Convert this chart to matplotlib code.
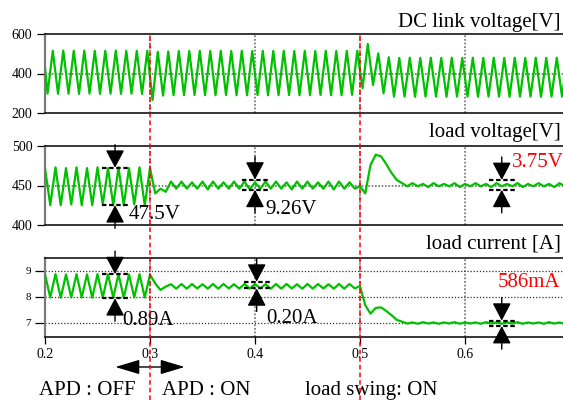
import numpy as np
import matplotlib
matplotlib.use('Agg')
import matplotlib.pyplot as plt
from matplotlib.lines import Line2D
from matplotlib.transforms import blended_transform_factory

plt.rcParams['font.family'] = ['Liberation Serif', 'DejaVu Serif']

# ---------------- data ----------------
half_period = 0.005          # s between successive extrema (100 Hz ripple)
dc_first_time = 0.2          # first sample of DC link trace
dc_first_extremum = 0.2024   # first trough of DC link trace
lv_first_extremum = 0.2
lc_first_extremum = 0.2

# DC link voltage [V]: first sample, then alternating extrema
dc_link_v = [430,
             298, 515, 297, 516, 298, 515, 297, 516, 298, 515,
             297, 515, 298, 516, 297, 515, 298, 515, 296, 515,
             266,
             510, 288, 512, 290, 514, 290, 514, 291, 515, 290,
             514, 290, 515, 291, 514, 290, 515, 290, 514, 291,
             515, 290, 514, 290, 515, 291, 514, 290, 515, 290,
             514, 291, 515, 290, 514, 290, 515, 292, 515,
             325, 549, 342, 502, 300, 482, 283,
             479, 283, 480, 282, 479, 283, 480, 283, 479, 282,
             480, 283, 479, 283, 480, 282, 479, 283, 480, 283,
             479, 282, 480, 283, 479, 283, 480, 282, 479, 283,
             480, 283, 479]

# load voltage [V]: alternating extrema / transient samples
load_voltage_v = [472, 425, 473, 425, 472, 426, 473, 425, 472, 425,
                  473, 426, 472, 425, 473, 425, 472, 426, 473, 425, 472,
                  440, 446, 442, 455, 446,
                  455, 446, 454, 446, 455, 445, 455, 446, 454, 446,
                  455, 446, 455, 445, 454, 446, 455, 446, 455, 446,
                  454, 445, 455, 446, 455, 446, 454, 446, 455, 445,
                  455, 446, 454, 446,
                  449, 440, 476, 489, 487, 477, 466, 457, 453, 449,
                  453, 449, 452, 448, 453, 449, 452, 449, 453, 448,
                  452, 449, 453, 449, 452, 448, 453, 449, 452, 449,
                  453, 448, 452, 449, 453, 449, 452, 448, 453, 449]

# load current [A]
load_current_a = [8.87, 7.98, 8.88, 7.97, 8.87, 7.98, 8.88, 7.98, 8.87, 7.97,
                  8.88, 7.98, 8.87, 7.98, 8.88, 7.97, 8.87, 7.98, 8.88, 7.98, 8.86,
                  8.52, 8.27, 8.40,
                  8.49, 8.32, 8.50, 8.32, 8.50, 8.33, 8.49, 8.32, 8.50, 8.32,
                  8.50, 8.33, 8.49, 8.32, 8.50, 8.32, 8.50, 8.33, 8.49, 8.32,
                  8.50, 8.32, 8.50, 8.33, 8.49, 8.32, 8.50, 8.32, 8.50, 8.33,
                  8.49, 8.32, 8.50, 8.32, 8.50, 8.33,
                  8.42, 7.68, 7.36, 7.58, 7.60, 7.46, 7.30, 7.12, 7.05, 6.98,
                  7.02, 6.97, 7.03, 6.98, 7.02, 6.97, 7.02, 6.98, 7.03, 6.97,
                  7.02, 6.98, 7.02, 6.97, 7.03, 6.98, 7.02, 6.97, 7.02, 6.98,
                  7.03, 6.97, 7.02, 6.98, 7.02, 6.97, 7.03, 6.98, 7.02, 6.97]

# ripple measurement markers
lv_ann_time = [0.2667, 0.4, 0.635]
lv_ann_top = [472.5, 457.5, 457.0]
lv_ann_bottom = [425.0, 444.5, 444.5]
lv_ann_label = ['47.5V', '9.26V', '3.75V']
lc_ann_time = [0.2667, 0.4016, 0.635]
lc_ann_top = [8.88, 8.59, 7.09]
lc_ann_bottom = [7.95, 8.33, 6.88]
lc_ann_label = ['0.89A', '0.20A', '586mA']

event_times = [0.3, 0.5]
x_ticks = [0.2, 0.3, 0.4, 0.5, 0.6]
x_tick_labels = ['0.2', '0.3', '0.4', '0.5', '0.6']
dc_yticks = [200, 400, 600]
lv_yticks = [400, 450, 500]
lc_yticks = [7, 8, 9]
panel_titles = ['DC link voltage[V]', 'load voltage[V]', 'load current [A]']
bottom_labels = ['APD : OFF', 'APD : ON', 'load swing: ON']

# ---------------- layout ----------------
W, H = 563, 400
fig = plt.figure(figsize=(W / 100, H / 100), dpi=100)


def rect(left, top, right, bottom):
    return [left / W, 1 - bottom / H, (right - left) / W, (bottom - top) / H]


ax1 = fig.add_axes(rect(45, 34, 563, 113))
ax2 = fig.add_axes(rect(45, 146, 563, 225))
ax3 = fig.add_axes(rect(45, 258, 563, 337))
axes = [ax1, ax2, ax3]

GREEN = '#00c000'
xmax = 0.2 + (563 - 45) / 1050

dc_time = np.r_[dc_first_time, dc_first_extremum + half_period * np.arange(len(dc_link_v) - 1)]
lv_time = lv_first_extremum + half_period * np.arange(len(load_voltage_v))
lc_time = lc_first_extremum + half_period * np.arange(len(load_current_a))

ax1.plot(dc_time, dc_link_v, color=GREEN, lw=1.6, zorder=3, solid_joinstyle='round')
ax2.plot(lv_time, load_voltage_v, color=GREEN, lw=1.6, zorder=3, solid_joinstyle='round')
ax3.plot(lc_time, load_current_a, color=GREEN, lw=1.6, zorder=3, solid_joinstyle='round')

ax1.set_ylim(200, 600)
ax2.set_ylim(400, 500)
ax3.set_ylim(6.46, 9.5)
ax1.set_yticks(dc_yticks)
ax2.set_yticks(lv_yticks)
ax3.set_yticks(lc_yticks)

for ax in axes:
    ax.set_xlim(0.2, xmax)
    ax.set_facecolor('none')
    ax.spines['right'].set_visible(False)
    ax.spines['left'].set_color('#7a7a7a')
    ax.spines['left'].set_linewidth(1.6)
    ax.spines['top'].set_linewidth(1.1)
    ax.spines['bottom'].set_linewidth(1.1)
    ax.tick_params(axis='y', direction='out', length=6, width=0.9, pad=3, labelsize=10)
    for xv in x_ticks[1:]:
        ax.axvline(xv, color='#808080', ls=(0, (1, 1)), lw=1.3, zorder=1)
    ax.set_xticks(x_ticks)

for ax in (ax1, ax2):
    ax.tick_params(axis='x', bottom=False, labelbottom=False)
ax3.set_xticklabels(x_tick_labels)
ax3.tick_params(axis='x', direction='out', length=5, width=0.9, pad=3, labelsize=10)
ax3.tick_params(axis='y', labelsize=8, length=7)

ax1.axhline(400, color='#707070', ls=(0, (1, 1)), lw=1.2, zorder=1)
ax2.axhline(450, color='#707070', ls=(0, (1, 1)), lw=1.2, zorder=1)
for yv in lc_yticks:
    ax3.axhline(yv, color='#333333', ls=(0, (1, 1.5)), lw=0.9, zorder=1)

# titles (right-aligned just inside the right edge)
fig.text(561 / W, 1 - 27 / H, panel_titles[0], fontsize=15, va='baseline', ha='right')
fig.text(561 / W, 1 - 137 / H, panel_titles[1], fontsize=15, va='baseline', ha='right')
fig.text(561 / W, 1 - 248 / H, panel_titles[2], fontsize=15, va='baseline', ha='right')

# ripple markers
arrow_props = dict(arrowstyle='-|>,head_length=0.78,head_width=0.41', mutation_scale=14,
                   color='k', lw=1.0, shrinkA=0, shrinkB=0)
lv_label_offsets = [(14, -14), (10, -24), (10, 23)]
lc_label_offsets = [(7, -27), (10, -35), (-4, 39)]
label_colors = ['k', 'k', 'red']
HALF_W = 0.0125


def gap_marker(ax, t, top, bot, label, off, color):
    for y in (top, bot):
        ax.plot([t - HALF_W, t + HALF_W], [y, y], color='k', lw=1.6,
                ls=(0, (2, 1.2)), zorder=5, clip_on=False)
    ax.annotate('', xy=(t, top), xytext=(0, 23), textcoords='offset pixels',
                arrowprops=arrow_props, annotation_clip=False, zorder=6)
    ax.annotate('', xy=(t, bot), xytext=(0, -23), textcoords='offset pixels',
                arrowprops=arrow_props, annotation_clip=False, zorder=6)
    ax.annotate(label, xy=(t, bot), xytext=off, textcoords='offset pixels',
                ha='left', va='baseline', fontsize=15, color=color,
                annotation_clip=False, zorder=7)


for i in range(3):
    gap_marker(ax2, lv_ann_time[i], lv_ann_top[i], lv_ann_bottom[i], lv_ann_label[i],
               lv_label_offsets[i], label_colors[i])
    gap_marker(ax3, lc_ann_time[i], lc_ann_top[i], lc_ann_bottom[i], lc_ann_label[i],
               lc_label_offsets[i], label_colors[i])

# event lines across all panels
btr = blended_transform_factory(ax3.transData, fig.transFigure)
for xv in event_times:
    fig.add_artist(Line2D([xv, xv], [0, 1 - 34 / H], transform=btr, color='red',
                          ls=(0, (3, 2)), lw=1.1, zorder=10))

# APD double arrow
yarr = 1 - 367 / H
ax3.annotate('', xy=(event_times[0] + 0.033, yarr), xycoords=btr,
             xytext=(event_times[0] - 0.033, yarr), textcoords=btr,
             arrowprops=dict(arrowstyle='<|-|>,head_length=1.0,head_width=0.3',
                             mutation_scale=15, color='k', lw=1.0, shrinkA=0, shrinkB=0),
             annotation_clip=False)

fig.text(39 / W, 1 - 395 / H, bottom_labels[0], fontsize=15, va='baseline')
fig.text(162 / W, 1 - 395 / H, bottom_labels[1], fontsize=15, va='baseline')
fig.text(305 / W, 1 - 395 / H, bottom_labels[2], fontsize=15, va='baseline')

fig.savefig('out.png', dpi=100)
